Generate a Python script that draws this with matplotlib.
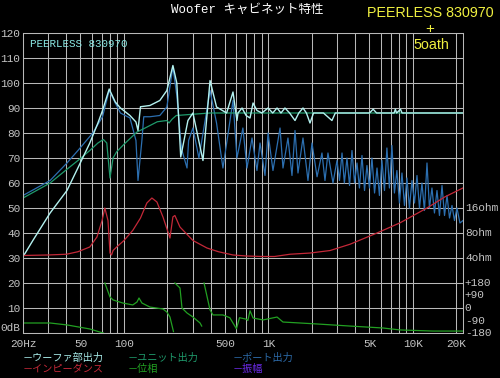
import matplotlib
matplotlib.use("Agg")
from matplotlib import pyplot as plt
from matplotlib.ticker import NullLocator
import numpy as np

nan = np.nan

# woofer (system) output, dB
woofer_f = [20, 23.4, 30.8, 40.3, 48.3, 58, 66, 71, 79, 87, 94.5, 110, 121, 125, 130, 151, 177, 198,
            218, 232, 247, 277, 300, 352, 394, 437, 513, 568, 605, 615, 656, 700, 745, 782, 832, 900,
            993, 1070, 1146, 1220, 1300, 1400, 1526, 1620, 1733, 1830, 1938, 2050, 2400, 2748, 2900,
            5000, 5300, 5600, 7400, 7550, 7700, 8200, 8400, 22190]
woofer_db = [30.5, 37, 48, 57, 66.4, 76, 84, 89, 97.6, 92.4, 90, 87, 84.4, 81, 90.5, 91, 93, 97,
             107, 100, 70.4, 85, 88, 69, 101, 90.4, 88, 96.4, 85, 88, 90, 87, 86, 92, 89, 88,
             90, 88, 90, 88, 90, 88, 85, 88, 90, 88, 84, 88, 88, 85, 88,
             88, 89.5, 88, 88, 89.5, 88, 89.5, 88, 88]

# unit output, dB
unit_f = [20, 30.8, 40.3, 48, 58, 66, 72, 76, 80, 84, 89, 100, 123, 140, 170, 198, 205, 215, 230,
          300, 394, 600, 22190]
unit_db = [54, 60, 65.5, 69, 73, 76, 77.4, 76, 62, 70, 72.5, 75.5, 80.4, 82, 84.5, 85, 84, 85.5, 87,
           87.5, 88, 88, 88]

# port output, dB
port_f = [20, 30.8, 40.3, 48, 60.8, 71, 79, 87, 94.5, 110, 121, 125, 133, 137, 151, 177, 198, 218,
          232, 247, 252, 273, 280, 300, 330, 394, 437, 484, 568, 605, 665, 710, 769, 832, 874, 946,
          993, 1074, 1202, 1260, 1364, 1454, 1526, 1600, 1733, 1876, 2000, 2168, 2345, 2460, 2580,
          2795, 2980, 3100, 3228, 3350, 3492, 3640, 3783, 3940, 4098, 4260, 4436, 4620, 4802, 5000,
          5200, 5420, 5637, 5860, 6097, 6350, 6600, 6870, 7150, 7440, 7740, 8060, 8390, 8730, 9080,
          9450, 9840, 10240, 10660, 11090, 11540, 12000, 12500, 13000, 13530, 14080, 14660, 15250,
          15880, 16530, 17200, 17900, 18620, 19370, 20150, 21140, 22190]
port_db = [55, 61, 68, 73, 80, 86.5, 97, 92, 88, 86, 77, 61, 77, 86.5, 86.5, 87, 90.4, 106.4,
           95, 77, 73, 66, 77, 82, 70, 97, 84, 66, 93, 70, 82, 66, 78, 65, 76, 63,
           80, 65, 82, 66, 78, 63, 81, 64, 78, 61, 76, 62.5, 72, 61, 72,
           60, 69, 61, 72, 60, 70, 59, 73, 60, 68, 58, 71, 57, 67, 58,
           70, 56, 66, 55, 69, 57, 74, 58, 75, 56, 65, 52, 64, 51, 62,
           50, 61, 52, 63, 50, 60, 49, 68, 50, 58, 48, 57, 47,
           59, 47, 55, 46, 51, 45, 50, 44, 45]

# impedance, ohm
imp_f = [20, 30, 40, 48, 58, 65, 70.5, 73.7, 77.5, 80, 82, 84, 89, 100, 115, 130, 144, 156, 169, 186,
         200, 208, 218, 225, 244, 300, 375, 450, 568, 700, 900, 1100, 1409, 1938, 2667, 3667, 5637,
         8128, 12500, 16640, 22190]
imp_ohm = [4.29, 4.35, 4.44, 4.76, 5.43, 7.17, 11.3, 16, 11.3, 4.59, 4.35, 4.92, 5.43, 6.5, 8.6,
           12.1, 18.4, 21.1, 18.9, 12.5, 8.57, 6.96, 12.5, 13, 9.44, 6.5, 5.28, 4.76, 4.35, 4.23,
           4.17, 4.17, 4.44, 4.59, 4.92, 5.86, 8, 10.6, 16, 21.8, 27.9]

# phase, degrees (nan = wrap)
phase_f = [20, 30.8, 40.3, 58, 68, 72, nan,
           73.7, 80, 84, 98, 115, 123, 127, 133, 151, 186, 198, 208, 220, nan,
           225, 244, 252, 273, 300, 336, 345, nan,
           358, 394, 413, 484, 540, 568, 600, 630, 700, 720, 745, 782, 917, 1146, 1260, 2168,
           3667, 6200, 8128, 13760, 22190]
phase_deg = [-108, -108, -122, -151, -173, -180, nan,
             180, 79, 58, 36, 22, 43, 72, 36, 7, -7, -29, -65, -170, nan,
             180, 144, 0, -36, -65, -108, -130, nan,
             180, -14, -50, -50, -70, -108, -150, -70, -80, -90, -20, -72, -86, -65, -101, -115,
             -130, -144, -158, -166, -166]

x_ticks = [20, 50, 100, 500, 1000, 5000, 10000, 20000]
x_labels = ['20Hz', '50', '100', '500', '1K', '5K', '10K', '20K']
y_ticks = [0, 10, 20, 30, 40, 50, 60, 70, 80, 90, 100, 110, 120]
y_labels = ['0dB', '10', '20', '30', '40', '50', '60', '70', '80', '90', '100', '110', '120']
ohm_labels = ['16ohm', '8ohm', '4ohm']
ohm_vals = [16, 8, 4]
deg_labels = ['+180', '+90', '0', '-90', '-180']
deg_vals = [180, 90, 0, -90, -180]


def ohm_to_db(z):
    return 30 + 10 * np.log2(np.asarray(z, dtype=float) / 4)


def deg_to_db(p):
    return (np.asarray(p, dtype=float) + 180) / 18


mono = 'Liberation Mono'
grey = '#c4c4c4'

fig = plt.figure(figsize=(5, 3.78), dpi=100, facecolor='black')
ax = fig.add_axes([23 / 500, 45 / 378, 440 / 500, 300 / 378], facecolor='black')

ax.plot(port_f, port_db, color='#2c6fb0', lw=0.9)
ax.plot(unit_f, unit_db, color='#1f9a6c', lw=0.9)
ax.plot(woofer_f, woofer_db, color='#b4f2f0', lw=1.0)
ax.plot(imp_f, ohm_to_db(imp_ohm), color='#c42838', lw=0.9)
ax.plot(phase_f, deg_to_db(phase_deg), color='#22a022', lw=0.9)

ax.set_xscale('log')
ax.set_xlim(20, 22190)
ax.set_ylim(0, 120)

grid_f = [20, 30, 40, 50, 60, 70, 80, 90, 100, 200, 300, 400, 500, 600, 700, 800, 900,
          1000, 2000, 3000, 4000, 5000, 6000, 7000, 8000, 9000, 10000, 20000]
ax.set_xticks(grid_f)
ax.set_xticklabels([x_labels[x_ticks.index(f)] if f in x_ticks else '' for f in grid_f])
ax.xaxis.set_minor_locator(NullLocator())
ax.set_yticks(y_ticks)
ax.set_yticklabels(y_labels)
ax.grid(True, color='#b8b8b8', lw=0.75)
ax.set_axisbelow(True)
for s in ax.spines.values():
    s.set_color('#b8b8b8')
    s.set_linewidth(0.75)
ax.tick_params(length=0, colors=grey, labelsize=8)
ax.tick_params(axis='y', pad=2)
ax.tick_params(axis='x', pad=4)
for t in ax.get_xticklabels() + ax.get_yticklabels():
    t.set_family(mono)
ax.get_yticklabels()[0].set_va('bottom')

tr = ax.get_yaxis_transform()
for lab, v in zip(ohm_labels, ohm_vals):
    ax.text(1.006, ohm_to_db(v), lab, transform=tr, color=grey, fontsize=8, family=mono,
            va='center', ha='left')
for lab, v in zip(deg_labels, deg_vals):
    ax.text(1.004, deg_to_db(v), lab, transform=tr, color=grey, fontsize=8, family=mono,
            va='center', ha='left')

ax.text(7 / 440, 1 - 11 / 300, 'PEERLESS 830970', transform=ax.transAxes, color='#8ae8e4',
        fontsize=7.8, family=mono, va='center', ha='left')

fig.text(247 / 500, 1 - 10 / 378, 'Woofer キャビネット特性', color='white', fontsize=9,
         family=[mono, 'Noto Sans CJK JP'], ha='center', va='center')
fig.text(430 / 500, 1 - 13 / 378, 'PEERLESS 830970', color='#f0f040', fontsize=10.3,
         family='Liberation Sans', ha='center', va='center')
fig.text(430 / 500, 1 - 29 / 378, '+', color='#f0f040', fontsize=11,
         family='Liberation Sans', ha='center', va='center')
fig.text(431 / 500, 1 - 45 / 378, '5oath', color='#f0f040', fontsize=10.3,
         family='Liberation Sans', ha='center', va='center')

legend = [('－ウーファ部出力', '#a8ecea', 23, 358), ('－ユニット出力', '#1f9a6c', 128, 358),
          ('－ポート出力', '#2c6aa8', 233, 358), ('－インピーダンス', '#c42838', 23, 369),
          ('－位相', '#22a022', 128, 369), ('－振幅', '#6a2ae6', 233, 369)]
for txt, c, x, y in legend:
    fig.text(x / 500, 1 - y / 378, txt, color=c, fontsize=7.3,
             family=['Noto Sans CJK JP', 'DejaVu Sans'], ha='left', va='center')

fig.savefig('out.png', dpi=100, facecolor='black')
